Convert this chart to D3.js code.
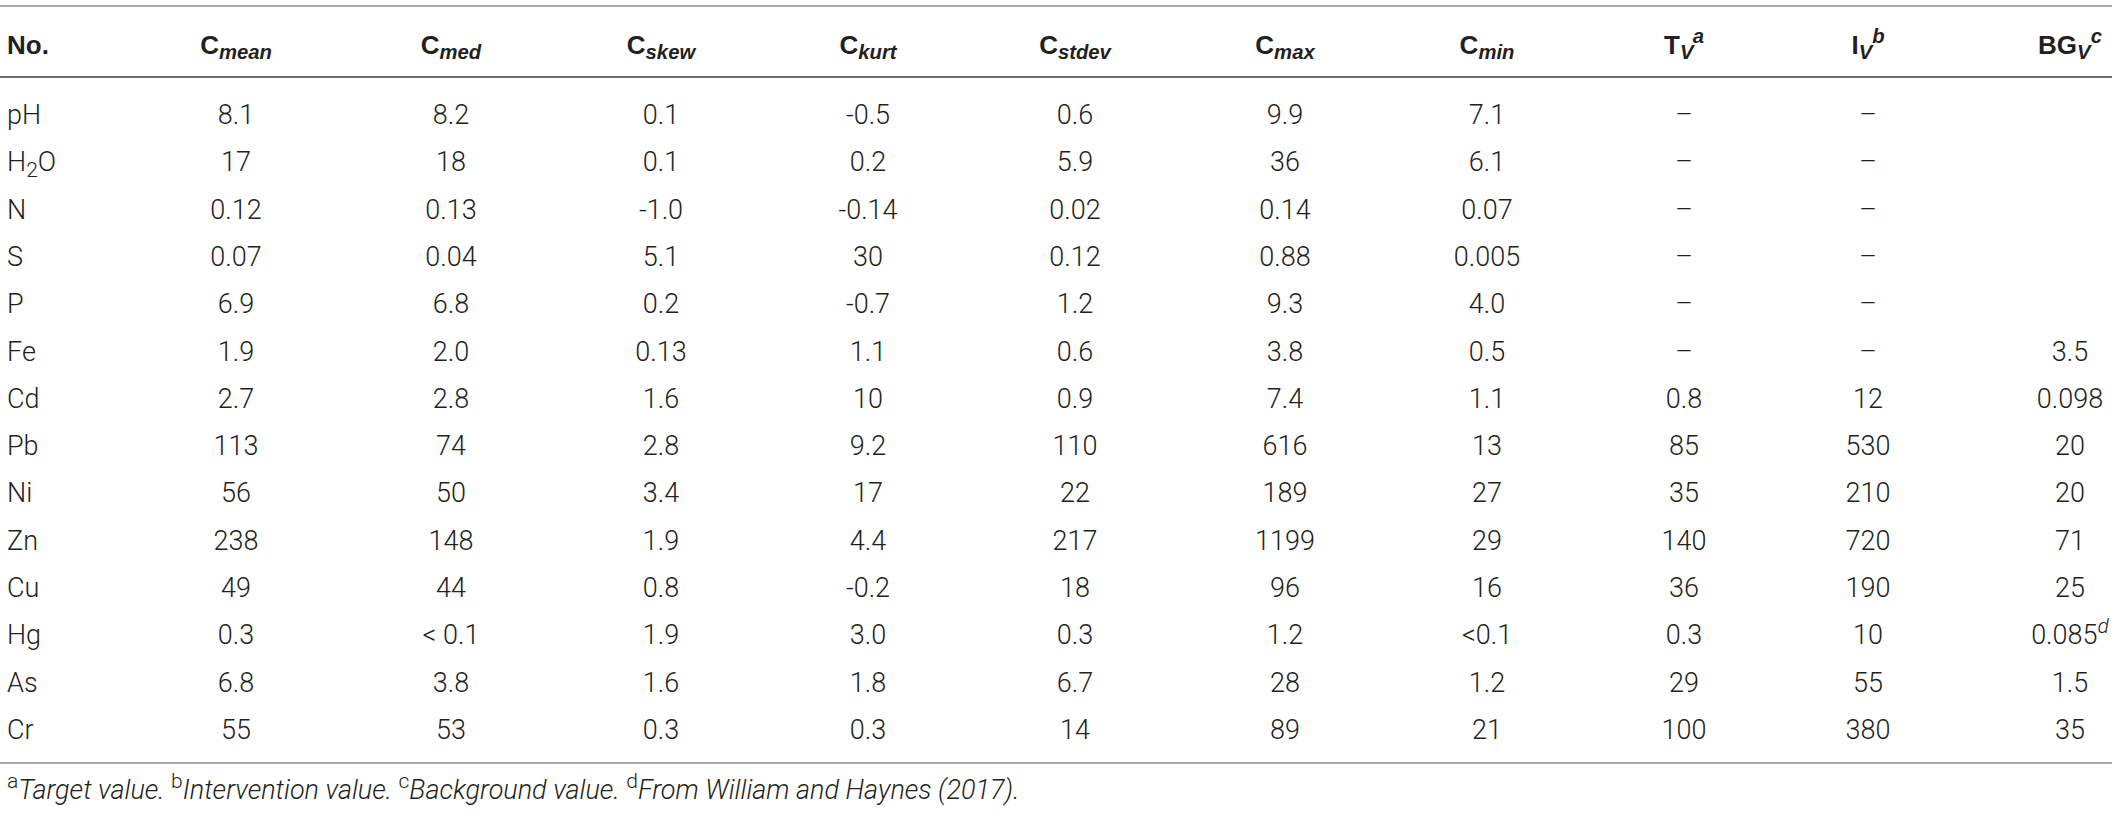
<!DOCTYPE html>
<html>
<head>
<meta charset="utf-8">
<script src="https://cdn.jsdelivr.net/npm/d3@7"></script>
<style>
  html, body { margin: 0; padding: 0; background: #fff; }
  svg { display: block; }
</style>
</head>
<body>
<svg id="chart"></svg>
<script>
// markup: _{x} italic subscript, _[x] upright subscript, ^{x} italic superscript, ^[x] upright superscript
const headers = ['No.', 'C_{mean}', 'C_{med}', 'C_{skew}', 'C_{kurt}', 'C_{stdev}',
                 'C_{max}', 'C_{min}', 'T_{V}^{a}', 'I_{V}^{b}', 'BG_{V}^{c}'];

const rowLabels = ['pH', 'H_[2]O', 'N', 'S', 'P', 'Fe', 'Cd', 'Pb', 'Ni', 'Zn', 'Cu', 'Hg', 'As', 'Cr'];

const cMean  = ['8.1', '17', '0.12', '0.07', '6.9', '1.9', '2.7', '113', '56', '238', '49', '0.3', '6.8', '55'];
const cMed   = ['8.2', '18', '0.13', '0.04', '6.8', '2.0', '2.8', '74', '50', '148', '44', '< 0.1', '3.8', '53'];
const cSkew  = ['0.1', '0.1', '-1.0', '5.1', '0.2', '0.13', '1.6', '2.8', '3.4', '1.9', '0.8', '1.9', '1.6', '0.3'];
const cKurt  = ['-0.5', '0.2', '-0.14', '30', '-0.7', '1.1', '10', '9.2', '17', '4.4', '-0.2', '3.0', '1.8', '0.3'];
const cStdev = ['0.6', '5.9', '0.02', '0.12', '1.2', '0.6', '0.9', '110', '22', '217', '18', '0.3', '6.7', '14'];
const cMax   = ['9.9', '36', '0.14', '0.88', '9.3', '3.8', '7.4', '616', '189', '1199', '96', '1.2', '28', '89'];
const cMin   = ['7.1', '6.1', '0.07', '0.005', '4.0', '0.5', '1.1', '13', '27', '29', '16', '<0.1', '1.2', '21'];
const tV     = ['–', '–', '–', '–', '–', '–', '0.8', '85', '35', '140', '36', '0.3', '29', '100'];
const iV     = ['–', '–', '–', '–', '–', '–', '12', '530', '210', '720', '190', '10', '55', '380'];
const bgV    = ['', '', '', '', '', '3.5', '0.098', '20', '20', '71', '25', '0.085^{d}', '1.5', '35'];

const footnote = '^[a]Target value. ^[b]Intervention value. ^[c]Background value. ^[d]From William and Haynes (2017).';

const columnData = [rowLabels, cMean, cMed, cSkew, cKurt, cStdev, cMax, cMin, tV, iV, bgV];

const W = 2118, H = 818;
const FONT_BODY = 'Roboto, "Liberation Sans", Arial, sans-serif';
const FONT_HEAD = '"Liberation Sans", Arial, sans-serif';
const TEXT = '#231f20';
const HEAD_SIZE = 26;
const BODY_SIZE = 27;

const svg = d3.select('#chart').attr('width', W).attr('height', H);

// column centres are not evenly spaced in the original table
const x = d3.scaleOrdinal()
    .domain(d3.range(headers.length))
    .range([7, 236, 451, 661, 868, 1075, 1285, 1487, 1684, 1868, 2070]);

// text baselines of the body rows
const y = d3.scalePoint()
    .domain(d3.range(rowLabels.length))
    .range([124, 739]);

function parse(str) {
    const out = [];
    const re = /(_|\^)(\{|\[)([^}\]]*)[}\]]/g;
    let last = 0, m;
    while ((m = re.exec(str)) !== null) {
        if (m.index > last) out.push({ text: str.slice(last, m.index), pos: 0 });
        out.push({ text: m[3], pos: m[1] === '_' ? 1 : -1, italic: m[2] === '{' });
        last = re.lastIndex;
    }
    if (last < str.length) out.push({ text: str.slice(last), pos: 0 });
    return out;
}

function rich(sel, str, size) {
    let cur = 0;
    parse(str).forEach(s => {
        const off = s.pos === 1 ? size * 0.2 : s.pos === -1 ? -size * 0.42 : 0;
        const t = sel.append('tspan').text(s.text).attr('dy', off - cur);
        if (s.pos !== 0) {
            t.attr('font-size', size * 0.78)
             .attr('font-style', s.italic ? 'italic' : 'normal');
        }
        cur = off;
    });
}

// rules
const rules = [
    { y: 6, color: '#a8a8a8' },
    { y: 77, color: '#6e6e6e' },
    { y: 763, color: '#a8a8a8' }
];
svg.selectAll('line.rule')
    .data(rules)
    .join('line')
    .attr('class', 'rule')
    .attr('x1', 0).attr('x2', 2112)
    .attr('y1', d => d.y).attr('y2', d => d.y)
    .attr('stroke', d => d.color)
    .attr('stroke-width', 2);

// header
svg.append('g')
    .selectAll('text')
    .data(headers)
    .join('text')
    .attr('x', (d, i) => x(i))
    .attr('y', 54)
    .attr('text-anchor', (d, i) => i === 0 ? 'start' : 'middle')
    .attr('font-family', FONT_HEAD)
    .attr('font-weight', 700)
    .attr('font-size', HEAD_SIZE)
    .attr('fill', TEXT)
    .each(function (d) { rich(d3.select(this), d, HEAD_SIZE); });

// body
const cells = [];
columnData.forEach((col, ci) => col.forEach((v, ri) => cells.push({ ci, ri, v })));

svg.append('g')
    .selectAll('text')
    .data(cells.filter(c => c.v !== ''))
    .join('text')
    .attr('x', d => x(d.ci))
    .attr('y', d => y(d.ri))
    .attr('text-anchor', d => d.ci === 0 ? 'start' : 'middle')
    .attr('font-family', FONT_BODY)
    .attr('font-weight', 300)
    .attr('font-size', BODY_SIZE)
    .attr('fill', TEXT)
    .each(function (d) { rich(d3.select(this), d.v, BODY_SIZE); });

// footnote
const fn = svg.append('text')
    .attr('x', 7)
    .attr('y', 799)
    .attr('font-family', FONT_BODY)
    .attr('font-weight', 300)
    .attr('font-style', 'italic')
    .attr('font-size', BODY_SIZE)
    .attr('fill', TEXT);
rich(fn, footnote, BODY_SIZE);
</script>
</body>
</html>
